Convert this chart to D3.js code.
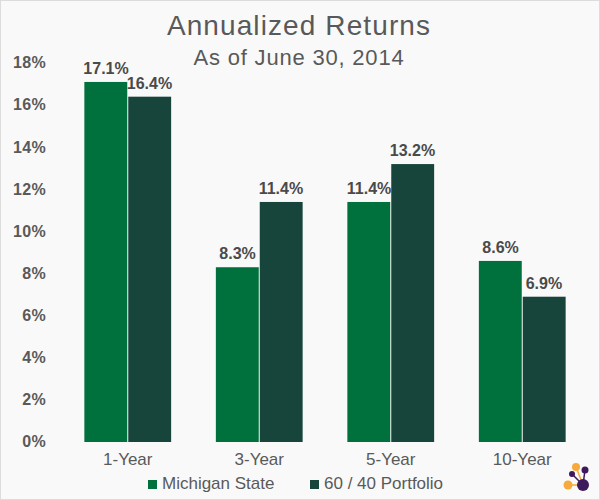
<!DOCTYPE html>
<html><head><meta charset="utf-8">
<script src="https://cdn.jsdelivr.net/npm/d3@7"></script>
<style>body{margin:0;background:#fff}svg{display:block}</style>
</head><body>
<svg id="c" width="600" height="500"></svg>
<script>
const categories = ["1-Year","3-Year","5-Year","10-Year"];
const seriesNames = ["Michigan State","60 / 40 Portfolio"];
const michigan = [17.1, 8.3, 11.4, 8.6];
const portfolio = [16.4, 11.4, 13.2, 6.9];
const yTicks = [0,2,4,6,8,10,12,14,16,18];
const colors = ["#00703c","#18453b"];

const svg = d3.select("#c");
svg.append("rect").attr("x",0.5).attr("y",0.5).attr("width",599).attr("height",499)
  .attr("fill","#f9f9f9").attr("stroke","#dcdcdc");

const font = "'Liberation Sans', Arial, sans-serif";
const txt = "#595959";

const x = d3.scaleBand().domain(categories).range([62,588]).paddingInner(0.34).paddingOuter(0.17);
const xs = d3.scaleBand().domain(seriesNames).range([0,x.bandwidth()]);
const y = d3.scaleLinear().domain([0,18]).range([442,63]);

svg.append("text").attr("x",299).attr("y",35).attr("text-anchor","middle")
  .attr("font-family",font).attr("font-size",28).attr("letter-spacing",1.1).attr("fill",txt).text("Annualized Returns");
svg.append("text").attr("x",299).attr("y",65).attr("text-anchor","middle")
  .attr("font-family",font).attr("font-size",22).attr("letter-spacing",0.8).attr("fill",txt).text("As of June 30, 2014");

const yAxis = svg.append("g").attr("transform","translate(46,0)")
  .call(d3.axisLeft(y).tickValues(yTicks).tickFormat(d=>d+"%").tickSize(0).tickPadding(0));
yAxis.select(".domain").remove();
yAxis.selectAll("text").attr("font-family",font).attr("font-size",16).attr("font-weight","bold")
  .attr("letter-spacing",0.3).attr("fill",txt).attr("dy","0.3em");

const xAxis = svg.append("g").attr("transform","translate(0,442)")
  .call(d3.axisBottom(x).tickSize(0).tickPadding(0));
xAxis.select(".domain").remove();
xAxis.selectAll("text").attr("font-family",font).attr("font-size",17).attr("fill",txt)
  .attr("dy",0).attr("y",23);

const data = [michigan, portfolio];
data.forEach((vals,si)=>{
  const g = svg.append("g");
  g.selectAll("rect").data(vals).join("rect")
    .attr("x",(d,i)=>x(categories[i])+xs(seriesNames[si]) + (si?0.5:0))
    .attr("width",xs.bandwidth()-0.5)
    .attr("y",d=>y(d)).attr("height",d=>y(0)-y(d))
    .attr("fill",colors[si]);
  g.selectAll("text").data(vals).join("text")
    .attr("x",(d,i)=>x(categories[i])+xs(seriesNames[si])+xs.bandwidth()/2)
    .attr("y",d=>y(d)-8).attr("text-anchor","middle")
    .attr("font-family",font).attr("font-size",16).attr("font-weight","bold").attr("fill","#4a4a4a")
    .text(d=>d.toFixed(1)+"%");
});

// legend
const legX = [148,310];
seriesNames.forEach((n,i)=>{
  svg.append("rect").attr("x",legX[i]).attr("y",480).attr("width",9).attr("height",9).attr("fill",colors[i]);
  svg.append("text").attr("x",legX[i]+14).attr("y",489).attr("font-family",font).attr("font-size",17).attr("fill",txt).text(n);
});

// logo
const lg = svg.append("g");
const pur = "#3c1a5b", org = "#f7a93b";
const hub = [583,485];
[[576,467,org],[568,485,org],[572,474,pur],[585,470,pur]].forEach(c=>{
  lg.append("line").attr("x1",c[0]).attr("y1",c[1]).attr("x2",hub[0]).attr("y2",hub[1]).attr("stroke",c[2]).attr("stroke-width",1.5);
});
[[576,467,4,org],[568,485,4.5,org],[572,474,3,pur],[585,470,3.5,pur],[583,485,6,pur]].forEach(c=>{
  lg.append("circle").attr("cx",c[0]).attr("cy",c[1]).attr("r",c[2]).attr("fill",c[3]);
});
</script>
</body></html>
